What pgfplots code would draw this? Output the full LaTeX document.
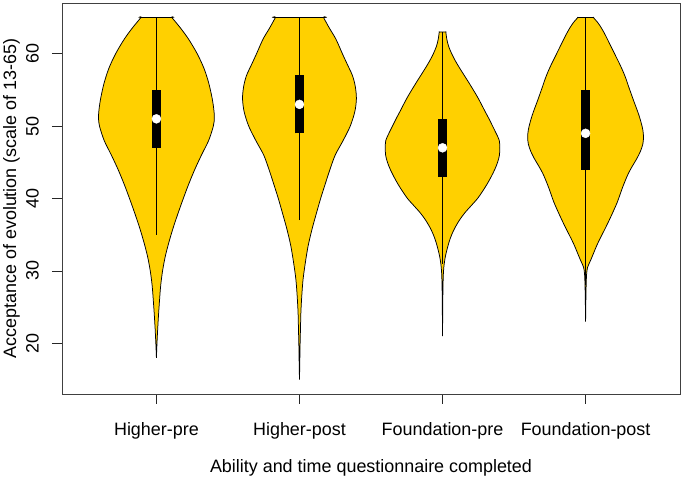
\documentclass[border=0pt]{standalone}
\usepackage{fontspec}
\setmainfont{Liberation Sans}
\usepackage{pgfplots}
\pgfplotsset{compat=1.18}
\usepackage{pgfplotstable}
\definecolor{vgold}{RGB}{255,208,0}

% violin outlines: y, signed half-width (right side upwards, left side downwards)
\pgfplotstableread{
y w
18.0 0
20.0 0.004
22.0 0.009
24.0 0.015
26.0 0.022
28.0 0.03
30.0 0.043
32.0 0.062
34.0 0.088
36.0 0.118
38.0 0.152
40.0 0.188
42.0 0.226
44.0 0.268
46.0 0.315
48.0 0.365
50.0 0.398
51.2 0.405
52.5 0.40
54.0 0.388
56.0 0.365
58.0 0.332
60.0 0.285
62.0 0.225
63.5 0.17
65.0 0.108
65.0 0.108
65.0 -0.108
65.0 -0.108
63.5 -0.17
62.0 -0.225
60.0 -0.285
58.0 -0.332
56.0 -0.365
54.0 -0.388
52.5 -0.40
51.2 -0.405
50.0 -0.398
48.0 -0.365
46.0 -0.315
44.0 -0.268
42.0 -0.226
40.0 -0.188
38.0 -0.152
36.0 -0.118
34.0 -0.088
32.0 -0.062
30.0 -0.043
28.0 -0.03
26.0 -0.022
24.0 -0.015
22.0 -0.009
20.0 -0.004
18.0 0
}\vA

\pgfplotstableread{
y w
15.0 0
17.0 0.002
19.5 0.004
22.0 0.007
24.3 0.01
26.5 0.016
28.8 0.025
31.0 0.04
33.4 0.06
35.7 0.087
38.0 0.119
40.0 0.148
42.0 0.18
44.0 0.213
46.0 0.25
48.0 0.305
50.0 0.355
52.0 0.387
53.8 0.398
55.5 0.39
57.0 0.37
58.5 0.335
60.0 0.30
62.0 0.255
63.5 0.21
65.0 0.168
65.0 0.168
65.0 -0.168
65.0 -0.168
63.5 -0.21
62.0 -0.255
60.0 -0.30
58.5 -0.335
57.0 -0.37
55.5 -0.39
53.8 -0.398
52.0 -0.387
50.0 -0.355
48.0 -0.305
46.0 -0.25
44.0 -0.213
42.0 -0.18
40.0 -0.148
38.0 -0.119
35.7 -0.087
33.4 -0.06
31.0 -0.04
28.8 -0.025
26.5 -0.016
24.3 -0.01
22.0 -0.007
19.5 -0.004
17.0 -0.002
15.0 0
}\vB

\pgfplotstableread{
y w
21.0 0
26.0 0.002
28.5 0.004
30.0 0.007
31.0 0.012
32.0 0.02
33.0 0.032
34.0 0.046
35.0 0.064
36.0 0.088
37.0 0.118
38.0 0.155
39.0 0.20
40.0 0.245
41.0 0.28
42.0 0.312
43.0 0.34
44.0 0.365
45.0 0.385
46.0 0.398
47.0 0.40
48.0 0.397
49.0 0.375
50.0 0.35
51.0 0.325
52.0 0.298
53.0 0.272
54.0 0.245
55.0 0.215
56.0 0.184
57.0 0.152
58.0 0.12
59.0 0.09
60.0 0.064
61.0 0.043
62.0 0.03
63.0 0.023
63.0 0.023
63.0 -0.023
63.0 -0.023
62.0 -0.03
61.0 -0.043
60.0 -0.064
59.0 -0.09
58.0 -0.12
57.0 -0.152
56.0 -0.184
55.0 -0.215
54.0 -0.245
53.0 -0.272
52.0 -0.298
51.0 -0.325
50.0 -0.35
49.0 -0.375
48.0 -0.397
47.0 -0.40
46.0 -0.398
45.0 -0.385
44.0 -0.365
43.0 -0.34
42.0 -0.312
41.0 -0.28
40.0 -0.245
39.0 -0.20
38.0 -0.155
37.0 -0.118
36.0 -0.088
35.0 -0.064
34.0 -0.046
33.0 -0.032
32.0 -0.02
31.0 -0.012
30.0 -0.007
28.5 -0.004
26.0 -0.002
21.0 0
}\vC

\pgfplotstableread{
y w
23.0 0
26.0 0.002
28.0 0.004
29.5 0.007
30.5 0.014
31.5 0.036
32.5 0.057
33.5 0.078
34.5 0.102
35.5 0.128
36.5 0.153
37.5 0.177
38.5 0.20
39.5 0.222
40.5 0.24
41.5 0.258
42.5 0.278
43.5 0.30
44.5 0.328
45.5 0.358
46.5 0.383
47.5 0.40
48.5 0.405
49.5 0.40
50.5 0.388
51.5 0.373
52.5 0.355
53.5 0.336
54.5 0.318
55.5 0.30
56.5 0.283
57.5 0.263
58.5 0.24
59.5 0.215
60.5 0.19
61.5 0.165
62.5 0.14
63.5 0.112
64.3 0.085
65.0 0.054
65.0 0.054
65.0 -0.054
65.0 -0.054
64.3 -0.085
63.5 -0.112
62.5 -0.14
61.5 -0.165
60.5 -0.19
59.5 -0.215
58.5 -0.24
57.5 -0.263
56.5 -0.283
55.5 -0.30
54.5 -0.318
53.5 -0.336
52.5 -0.355
51.5 -0.373
50.5 -0.388
49.5 -0.40
48.5 -0.405
47.5 -0.40
46.5 -0.383
45.5 -0.358
44.5 -0.328
43.5 -0.30
42.5 -0.278
41.5 -0.258
40.5 -0.24
39.5 -0.222
38.5 -0.20
37.5 -0.177
36.5 -0.153
35.5 -0.128
34.5 -0.102
33.5 -0.078
32.5 -0.057
31.5 -0.036
30.5 -0.014
29.5 -0.007
28.0 -0.004
26.0 -0.002
23.0 0
}\vD

\begin{document}
\begin{tikzpicture}
\begin{axis}[name=ax,
  width=618bp, height=391bp, scale only axis,
  xmin=0.34, xmax=4.66, ymin=13, ymax=67,
  xtick={1,2,3,4},
  xticklabels={Higher-pre,Higher-post,Foundation-pre,Foundation-post},
  ytick={20,30,40,50,60},
  tick align=outside, xtick pos=bottom, ytick pos=left,
  major tick length=10bp,
  every tick/.style={black!85, line width=0.75bp},
  axis line style={black!75, line width=0.75bp},
  font=\fontsize{18}{21.6}\selectfont,
  ticklabel style={font=\fontsize{18}{21.6}\selectfont},
  /pgf/number format/assume math mode=true,
  xticklabel style={anchor=base, inner sep=0pt},
  xticklabel shift=32bp,
  yticklabel style={rotate=90, anchor=south, inner sep=0pt},
  yticklabel shift=13bp,
  clip=false]

\addplot[fill=vgold, draw=black, line width=0.75bp, smooth, tension=0.5] table[x expr=1+\thisrow{w}, y=y] {\vA};
\addplot[fill=vgold, draw=black, line width=0.75bp, smooth, tension=0.5] table[x expr=2+\thisrow{w}, y=y] {\vB};
\addplot[fill=vgold, draw=black, line width=0.75bp, smooth, tension=0.5] table[x expr=3+\thisrow{w}, y=y] {\vC};
\addplot[fill=vgold, draw=black, line width=0.75bp, smooth, tension=0.5] table[x expr=4+\thisrow{w}, y=y] {\vD};

% whiskers
\addplot[black, line width=0.8bp] coordinates {(1,35) (1,65)};
\addplot[black, line width=0.8bp] coordinates {(2,37) (2,65)};
\addplot[black, line width=0.8bp] coordinates {(3,31) (3,63)};
\addplot[black, line width=0.8bp] coordinates {(4,28) (4,65)};
% boxes
\addplot[black, line width=8.3bp] coordinates {(1,47) (1,55)};
\addplot[black, line width=8.3bp] coordinates {(2,49) (2,57)};
\addplot[black, line width=8.3bp] coordinates {(3,43) (3,51)};
\addplot[black, line width=8.3bp] coordinates {(4,44) (4,55)};
% medians
\addplot[only marks, mark=*, mark size=4.5bp, mark options={draw=white, fill=white}]
  coordinates {(1,51) (2,53) (3,47) (4,49)};
\end{axis}
\node[anchor=base, inner sep=0pt, font=\fontsize{18}{21.6}\selectfont] at ([yshift=-79bp]ax.south) {Ability and time questionnaire completed};
\node[rotate=90, anchor=base, inner sep=0pt, font=\fontsize{18}{21.6}\selectfont] at ([xshift=-46bp]ax.west) {Acceptance of evolution (scale of 13-65)};
\path ([xshift=-62bp, yshift=-87bp]ax.south west) rectangle ([xshift=4bp, yshift=3bp]ax.north east);
\end{tikzpicture}
\end{document}
